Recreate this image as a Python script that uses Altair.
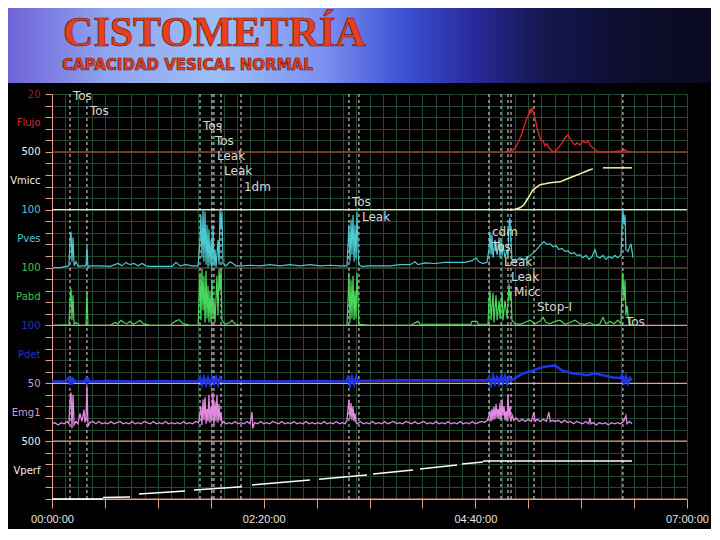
import altair as alt
import pandas as pd

# ---------------- data (time in minutes, shown as hh:mm:00) ----------------
# channel: (band index from bottom, full-scale value)
CHANNELS = {"Flujo": (6, 20), "Vmicc": (5, 500), "Pves": (4, 100), "Pabd": (3, 100),
            "Pdet": (2, 100), "Emg1": (1, 50), "Vperf": (0, 500)}

FLUJO = [(299.6, 0), (302.9, 0.3), (304.9, 0.7), (306.9, 1.7), (308.9, 3.8), (310.9, 6.6), (312.8, 9.7),
         (314.2, 11.7), (315.5, 13.1), (316.2, 14.5), (316.8, 13.5), (317.5, 15.2), (318.1, 14.1), (319.5, 11.7),
         (320.8, 8.3), (322.1, 5.9), (323.4, 4.1), (324.8, 3.8), (326.1, 2.1), (327.4, 2.8), (328.7, 1.4),
         (330.0, 0.7), (331.4, 0), (333.3, 0.3), (335.3, 1.7), (337.3, 3.1), (339.3, 4.8), (341.3, 5.9),
         (342.6, 4.8), (343.9, 3.5), (345.9, 2.4), (347.2, 3.1), (349.2, 2.4), (351.2, 3.8), (353.2, 3.1),
         (354.5, 3.8), (355.8, 2.4), (357.2, 1.7), (359.1, 0.7), (361.1, 0), (369.1, 0), (377.0, 0.3),
         (379.0, 0.7), (381.0, 0), (383.6, 0)]

VMICC = [
    [(302.9, 0), (306.2, 4), (309.5, 17), (312.2, 43), (314.2, 86), (316.2, 129), (318.1, 172), (320.8, 198),
     (322.8, 216), (326.1, 224), (329.4, 233), (332.7, 237), (336.0, 241), (339.3, 259), (342.6, 276),
     (345.9, 293), (349.2, 310), (352.5, 328), (355.8, 345), (357.8, 353)],
    [(364.4, 362), (383.6, 362)],
]

PVES = [(0.7, 0), (5.3, 0), (9.3, 2), (11.2, 3), (11.9, 48), (12.6, 62), (13.2, 10), (13.9, 52), (14.6, 3),
        (15.9, 10), (17.2, 2), (19.8, 3), (22.5, 3), (23.1, 36), (23.8, 0), (25.1, 3), (31.7, 3), (38.4, 2),
        (43.7, 7), (46.3, 3), (48.9, 9), (51.6, 5), (54.2, 7), (56.9, 3), (59.5, 7), (62.2, 3), (64.8, 2),
        (71.4, 2), (79.4, 2), (82.0, 9), (84.7, 3), (88.6, 5), (92.6, 3), (96.6, 3), (97.9, 48), (98.5, 91),
        (99.2, 17), (99.9, 100), (100.5, 10), (101.2, 97), (101.9, 5), (102.5, 74), (103.2, 0), (103.8, 66),
        (104.5, 3), (105.2, 48), (105.8, 0), (106.5, 74), (107.1, 3), (107.8, 31), (108.5, 0), (109.8, 48),
        (110.5, 5), (111.1, 100), (111.8, 66), (112.4, 97), (113.1, 7), (115.1, 3), (117.7, 10), (119.7, 7),
        (121.7, 3), (125.7, 3), (131.0, 4), (137.6, 3), (144.2, 5), (150.8, 3), (157.4, 5), (164.0, 3),
        (170.6, 5), (177.3, 3), (183.9, 4), (190.5, 3), (195.1, 3), (195.8, 40), (196.4, 74), (197.1, 10),
        (197.8, 83), (198.4, 22), (199.1, 91), (199.8, 10), (200.4, 74), (201.1, 14), (201.7, 97), (202.4, 31),
        (203.0, 5), (205.0, 2), (210.3, 3), (216.9, 3), (223.6, 3), (230.2, 5), (236.8, 5), (240.1, 10),
        (242.1, 5), (246.7, 8), (253.3, 7), (259.9, 9), (266.5, 9), (273.2, 9), (277.8, 12), (280.4, 17),
        (282.4, 10), (285.1, 7), (287.7, 9), (289.0, 31), (289.7, 62), (290.4, 22), (291.0, 57), (291.7, 17),
        (293.0, 48), (294.4, 22), (295.7, 52), (296.3, 17), (297.0, 48), (297.7, 21), (298.3, 40), (299.6, 17),
        (301.0, 31), (301.6, 17), (302.3, 74), (302.9, 86), (303.6, 48), (304.2, 14), (306.2, 10), (309.5, 17),
        (312.8, 14), (316.2, 21), (319.5, 28), (321.5, 34), (323.4, 40), (325.4, 45), (327.4, 40), (329.4, 41),
        (331.4, 36), (333.3, 38), (335.3, 31), (337.3, 33), (339.3, 28), (341.3, 29), (343.3, 24), (345.3, 26),
        (347.2, 21), (349.2, 22), (351.2, 17), (353.2, 21), (355.2, 14), (357.2, 19), (359.1, 31), (360.5, 19),
        (362.4, 17), (364.4, 21), (366.4, 14), (368.4, 19), (370.4, 16), (372.3, 21), (374.3, 17), (376.3, 22),
        (377.0, 66), (377.6, 100), (378.3, 74), (379.0, 91), (379.6, 31), (381.0, 28), (382.3, 38), (383.0, 40),
        (384.3, 17)]

PABD = [(0.7, 0), (9.3, 1), (11.2, 0), (11.9, 43), (12.6, 64), (13.2, 9), (13.9, 52), (14.6, 2), (15.9, 5),
        (18.5, 0), (22.5, 0), (23.1, 60), (23.8, 0), (31.7, 0), (38.4, 0), (41.7, 5), (43.7, 3), (45.6, 9),
        (47.6, 5), (49.6, 3), (51.6, 7), (53.6, 2), (56.2, 5), (58.2, 9), (60.2, 3), (64.8, 0), (78.0, 0),
        (81.4, 7), (84.0, 10), (86.6, 3), (91.3, 0), (96.6, 0), (97.2, 43), (97.9, 91), (98.5, 9), (99.2, 98),
        (99.9, 26), (100.5, 86), (101.2, 5), (101.9, 95), (102.5, 12), (103.2, 69), (103.8, 5), (104.5, 60),
        (105.2, 5), (105.8, 78), (106.5, 12), (107.1, 43), (107.8, 5), (109.1, 86), (109.8, 17), (110.5, 98),
        (111.1, 60), (111.8, 98), (112.4, 9), (114.4, 2), (117.7, 5), (119.0, 9), (121.0, 3), (124.3, 0),
        (131.0, 0), (144.2, 0), (157.4, 0), (170.6, 0), (183.9, 0), (195.1, 0), (195.8, 43), (196.4, 91),
        (197.1, 5), (197.8, 78), (198.4, 12), (199.1, 86), (199.8, 9), (200.4, 60), (201.1, 12), (201.7, 91),
        (202.4, 43), (203.0, 2), (210.3, 0), (223.6, 0), (236.8, 0), (242.1, 7), (243.4, 2), (256.6, 2),
        (269.9, 2), (277.1, 2), (277.8, 7), (281.1, 7), (281.8, 2), (288.4, 2), (289.0, 43), (289.7, 60),
        (290.4, 9), (291.7, 57), (292.3, 5), (293.7, 52), (294.4, 9), (295.7, 43), (296.3, 12), (297.7, 57),
        (298.3, 9), (299.6, 43), (301.0, 12), (302.3, 72), (302.9, 43), (303.6, 60), (304.2, 9), (306.2, 3),
        (309.5, 2), (312.8, 5), (316.2, 9), (319.5, 3), (322.8, 7), (324.8, 14), (326.7, 5), (329.4, 3),
        (332.7, 7), (336.0, 9), (339.3, 2), (342.6, 5), (345.9, 9), (349.2, 3), (352.5, 2), (355.8, 5),
        (359.1, 0), (362.4, 3), (364.4, 14), (366.4, 3), (369.1, 7), (371.7, 3), (374.3, 9), (376.3, 3),
        (377.0, 60), (377.6, 91), (378.3, 43), (379.0, 78), (379.6, 17), (380.3, 34), (381.6, 3), (384.3, 0)]

PDET = [(0.0, 3), (8.6, 3), (11.2, 9), (11.9, -2), (12.6, 10), (13.2, -2), (13.9, 7), (15.2, 3), (21.8, 3),
        (22.5, 9), (23.1, -2), (23.8, 10), (24.5, 3), (38.4, 4), (51.6, 3), (71.4, 4), (96.6, 3), (97.9, 10),
        (99.2, -2), (100.5, 10), (101.9, -2), (103.2, 9), (104.5, -2), (105.8, 10), (107.1, 0), (108.5, 10),
        (109.8, -2), (111.1, 9), (112.4, 3), (124.3, 4), (150.8, 3), (177.3, 4), (194.4, 3), (195.8, 10),
        (197.1, -3), (198.4, 10), (199.8, -2), (201.1, 10), (202.4, 2), (203.7, 4), (230.2, 5), (263.2, 5),
        (287.7, 5), (289.0, 10), (290.4, -2), (291.7, 12), (293.0, 0), (294.4, 10), (295.7, 0), (297.0, 12),
        (298.3, 2), (299.6, 12), (301.0, 0), (302.3, 10), (303.6, 5), (306.2, 9), (311.5, 17), (318.1, 22),
        (324.8, 28), (329.4, 30), (332.7, 31), (337.3, 22), (344.6, 17), (349.2, 16), (353.8, 14), (359.1, 17),
        (364.4, 14), (371.1, 10), (376.3, 9), (377.0, 14), (378.3, -2), (379.6, 12), (381.0, 0), (382.3, 9),
        (383.6, 5)]

EMG = [(0, 15), (2, 16), (4, 14), (6, 16), (8, 15), (10, 17), (11.2, 15), (11.9, 35), (12.6, 42), (13.2, 11),
       (13.9, 40), (14.6, 14), (15.9, 17), (17.2, 15), (18.5, 24), (19.8, 17), (21.2, 27), (21.8, 16), (22.5, 20),
       (23.1, 48), (23.8, 13), (25.1, 16), (27, 17), (29, 15), (31, 17), (33, 15), (35, 16), (37, 15), (39, 17),
       (41, 15), (43, 16), (45, 17), (47, 15), (49, 16), (51, 15), (53, 17), (55, 15), (57, 16), (59, 15),
       (61, 17), (63, 16), (65, 15), (67, 17), (69, 15), (71, 16), (73, 15), (75, 17), (77, 15), (79, 16),
       (81, 15), (83, 16), (85, 15), (87, 17), (89, 15), (91, 16), (93, 15), (95, 17), (97, 16), (97.9, 24),
       (98.5, 30), (99.2, 14), (99.9, 36), (100.5, 18), (101.2, 38), (101.9, 15), (102.5, 28), (103.2, 17),
       (103.8, 40), (104.5, 16), (105.2, 30), (105.8, 18), (106.5, 42), (107.1, 14), (107.8, 34), (108.5, 17),
       (109.1, 40), (109.8, 16), (110.5, 32), (111.1, 18), (111.8, 25), (112.4, 15), (113.5, 17), (115, 15),
       (117, 16), (119, 15), (121, 17), (123, 15), (125, 16), (127, 15), (129, 17), (131, 15), (132.3, 25),
       (132.8, 11), (134, 16), (136, 15), (138, 17), (140, 15), (142, 16), (144, 15), (146, 17), (148, 16),
       (150, 15), (152, 17), (154, 15), (156, 16), (158, 15), (160, 17), (162, 15), (164, 16), (166, 15),
       (168, 17), (170, 15), (172, 16), (174, 15), (176, 16), (178, 15), (180, 17), (182, 15), (184, 16),
       (186, 15), (188, 17), (190, 15), (192, 16), (194, 15), (195.1, 18), (195.8, 28), (196.4, 36), (197.1, 20),
       (197.8, 33), (198.4, 18), (199.1, 30), (199.8, 17), (200.4, 24), (201.1, 16), (202, 15), (204, 17),
       (206, 15), (208, 16), (210, 15), (212, 17), (214, 15), (216, 16), (218, 15), (220, 17), (222, 15),
       (224, 16), (226, 17), (228, 15), (230, 16), (232, 15), (234, 17), (236, 16), (238, 15), (240, 17),
       (242, 15), (244, 16), (246, 17), (248, 15), (250, 16), (252, 15), (254, 17), (256, 15), (258, 16),
       (260, 15), (262, 17), (264, 15), (266, 16), (268, 15), (270, 17), (272, 15), (274, 16), (276, 15),
       (278, 17), (280, 15), (282, 16), (284, 17), (286, 16), (288, 18), (289, 22), (289.7, 26), (290.4, 17),
       (291, 28), (291.7, 18), (292.3, 30), (293, 19), (293.7, 32), (294.4, 20), (295, 28), (295.7, 19),
       (296.3, 33), (297, 18), (297.7, 36), (298.3, 22), (299, 30), (299.6, 18), (300.3, 26), (301, 17),
       (301.6, 40), (302.3, 20), (303, 30), (303.6, 17), (304.5, 22), (305.5, 18), (307, 20), (309, 17),
       (311, 19), (313, 17), (315, 19), (317, 17), (318.8, 25), (319.5, 17), (321, 19), (323, 17), (325, 19),
       (327, 17), (328.7, 25), (329.5, 17), (331, 18), (333, 17), (335, 18), (337, 16), (339, 18), (341, 16),
       (343, 17), (345, 15), (347, 17), (349, 16), (351, 15), (353, 17), (355, 15), (355.8, 20), (356.5, 15),
       (358, 16), (360, 14), (362, 16), (364, 15), (366, 16), (368, 14), (370, 16), (372, 15), (374, 16),
       (376, 15), (378, 17), (379.6, 22), (380.3, 15), (382, 17), (383.6, 15)]

VPERF = [
    [(0, 0), (33.7, 0)],
    [(33.7, 13), (51.6, 17)],
    [(57.5, 43), (88.0, 69)],
    [(93.9, 78), (125.7, 106)],
    [(132.3, 121), (170.6, 164)],
    [(176.6, 170), (208.3, 207)],
    [(212.3, 216), (238.8, 250)],
    [(243.4, 259), (267.9, 293)],
    [(271.2, 302), (285.1, 319)],
    [(285.1, 328), (383.6, 328)],
]

EVENT_T = [11.9, 23.1, 97.9, 105.8, 107.1, 111.8, 125.0, 196.4, 203.0, 289.0, 297.0, 301.6, 303.6, 318.8, 377.6]
EVENT_LABELS = [(11.9, "Tos"), (23.1, "Tos"), (97.9, "Tos"), (105.8, "Tos"), (107.1, "Leak"), (111.8, "Leak"),
                (125.0, "1dm"), (196.4, "Tos"), (203.0, "Leak"), (289.0, "cdm"), (289.0, "Tos"),
                (297.0, "Leak"), (301.6, "Leak"), (303.6, "Micc"), (318.8, "Stop-I"), (377.6, "Tos")]

AXIS_LABELS = [(7, "20"), (6.5, "Flujo"), (6, "500"), (5.5, "Vmicc"), (5, "100"), (4.5, "Pves"),
               (4, "100"), (3.5, "Pabd"), (3, "100"), (2.5, "Pdet"), (2, "50"), (1.5, "Emg1"),
               (1, "500"), (0.5, "Vperf")]

BASELINE_COLORS = {6: "#c83030", 5: "#efe7c2", 4: "#7a1616", 3: "#e2a08c", 2: "#e2a08c", 1: "#e2a08c",
                   0: "#e2a08c"}

# ---------------- build tables ----------------
def frame(name, pairs, seg=0):
    band, full = CHANNELS[name]
    return pd.DataFrame({"t": [p[0] for p in pairs], "v": [p[1] for p in pairs],
                         "pos": [band + p[1] / full for p in pairs], "seg": seg})

df_flujo = frame("Flujo", FLUJO)
df_vmicc = pd.concat([frame("Vmicc", s, i) for i, s in enumerate(VMICC)])
df_pves = frame("Pves", PVES)
df_pabd = frame("Pabd", PABD)
df_pdet = frame("Pdet", PDET)
df_emg = frame("Emg1", EMG)
df_vperf = pd.concat([frame("Vperf", s, i) for i, s in enumerate(VPERF)])

df_base = pd.DataFrame({"pos": list(BASELINE_COLORS.keys()), "col": list(BASELINE_COLORS.values())})
df_events = pd.DataFrame({"t": EVENT_T})
df_lab = pd.DataFrame({"t": [e[0] for e in EVENT_LABELS], "label": [e[1] for e in EVENT_LABELS]})
df_lab["pos"] = [7 - (2 + 15.13 * i) / 58.0 for i in range(len(df_lab))]
one = pd.DataFrame({"a": [0]})

W, H = 635, 405
SALMON = "#e2a08c"
GRID = "#26482c"

xscale = alt.Scale(domain=[0, 420], nice=False, zero=False)
yscale = alt.Scale(domain=[0, 7], nice=False, zero=False)

x_axis = alt.Axis(
    values=[round(i * 8.75, 2) for i in range(49)], grid=True, gridColor=GRID, gridWidth=1,
    tickColor=SALMON, tickSize=9,
    tickOpacity={"condition": {"test": "datum.value % 35 == 0", "value": 1}, "value": 0},
    labelExpr="datum.value % 140 == 0 ? format(floor(datum.value / 60), '02d') + ':' + "
              "format(datum.value % 60, '02d') + ':00' : ''",
    labelColor="#e6e6e6", labelFont="Liberation Sans", labelFontSize=11, labelPadding=5,
    labelOverlap=False, labelFlush=False, domainColor=SALMON, title=None)

label_expr = " : ".join(f"datum.value == {v} ? '{s}'" for v, s in AXIS_LABELS) + " : ''"
y_axis = alt.Axis(
    values=[round(k / 10, 1) for k in range(71)], grid=True, gridColor=GRID, gridWidth=1,
    gridOpacity={"condition": {"test": "round(datum.value * 10) % 2 == 0", "value": 1}, "value": 0},
    tickColor=SALMON, tickSize=7,
    tickOpacity={"condition": {"test": "round(datum.value * 10) % 2 == 0", "value": 1}, "value": 0},
    labelExpr=label_expr, labelFont="DejaVu Sans", labelFontSize=10, labelPadding=5,
    labelColor={"condition": [
        {"test": "datum.value > 6.7", "value": "#9a2020"},
        {"test": "datum.value > 6.2", "value": "#d02c2c"},
        {"test": "datum.value > 5.2", "value": "#f0f0f0"},
        {"test": "datum.value > 4.2", "value": "#52c8cc"},
        {"test": "datum.value > 3.2", "value": "#48c04c"},
        {"test": "datum.value > 2.2", "value": "#2232c8"},
        {"test": "datum.value > 1.2", "value": "#d69ad6"}], "value": "#f0f0f0"},
    labelOverlap=False, labelBaseline="middle", domainColor=SALMON, title=None)

X = lambda f: alt.X(f, scale=xscale, axis=x_axis)
Y = lambda f: alt.Y(f, scale=yscale, axis=y_axis)

# header
header = alt.Chart(one).mark_rect(
    color=alt.LinearGradient(gradient="linear", x1=0, x2=1, y1=0, y2=0, stops=[
        alt.GradientStop(color="#6f63d8", offset=0),
        alt.GradientStop(color="#8fa4ee", offset=0.14),
        alt.GradientStop(color="#9dbff6", offset=0.3),
        alt.GradientStop(color="#7c8ff0", offset=0.45),
        alt.GradientStop(color="#3d52d4", offset=0.56),
        alt.GradientStop(color="#2a2a9c", offset=0.66),
        alt.GradientStop(color="#15174f", offset=0.76),
        alt.GradientStop(color="#0d0d2e", offset=0.88),
        alt.GradientStop(color="#0a0a22", offset=1)])
).encode(x=alt.value(-44), x2=alt.value(W + 24), y=alt.value(-86), y2=alt.value(-11))


def header_text(txt, font, size, color, x, y):
    return alt.Chart(one).mark_text(text=txt, font=font, fontSize=size, fontWeight="bold", align="left",
                                    baseline="alphabetic", color=color, stroke="#6a1608",
                                    strokeWidth=0.7).encode(x=alt.value(x), y=alt.value(y))


base = alt.Chart(df_base).mark_rule(strokeWidth=1.2).encode(
    x=alt.value(0), x2=alt.value(W), y=Y("pos:Q"), color=alt.Color("col:N", scale=None))

events = alt.Chart(df_events).mark_rule(color="#e8e8e8", strokeDash=[3, 3], strokeWidth=1).encode(
    x=X("t:Q"))


def trace(df, color, width=1.2, detail=False):
    enc = dict(x=X("t:Q"), y=Y("pos:Q"))
    if detail:
        enc["detail"] = "seg:N"
    return alt.Chart(df).mark_line(color=color, strokeWidth=width).encode(**enc)


layers = [
    base, events,
    trace(df_vperf, "#ffffff", 1.5, True),
    trace(df_emg, "#e28ae0", 1.3),
    trace(df_pdet, "#1f34e6", 2.6),
    trace(df_pabd, "#4ad65a", 1.2),
    trace(df_pves, "#4ccad2", 1.2),
    trace(df_vmicc, "#f4f2a8", 1.5, True),
    trace(df_flujo, "#e22626", 1.3),
    alt.Chart(df_lab).mark_text(align="left", dx=3, baseline="middle", font="DejaVu Sans", fontSize=12,
                                color="#d8d8d8").encode(x=X("t:Q"), y=Y("pos:Q"), text="label:N"),
    header,
    header_text("CISTOMETRÍA", "Liberation Serif", 42, "#ea3f1c", 11, -48),
    header_text("CAPACIDAD VESICAL NORMAL", "DejaVu Sans", 15, "#e8421e", 10, -24),
]

chart = alt.layer(*layers).properties(
    width=W, height=H, background="#000000",
    padding={"left": 44, "top": 86, "right": 24, "bottom": 30},
    autosize=alt.AutoSizeParams(type="none"),
).configure_view(stroke=None, fill="#000000")

chart.save("out.html", embed_options={"renderer": "svg", "actions": False})
